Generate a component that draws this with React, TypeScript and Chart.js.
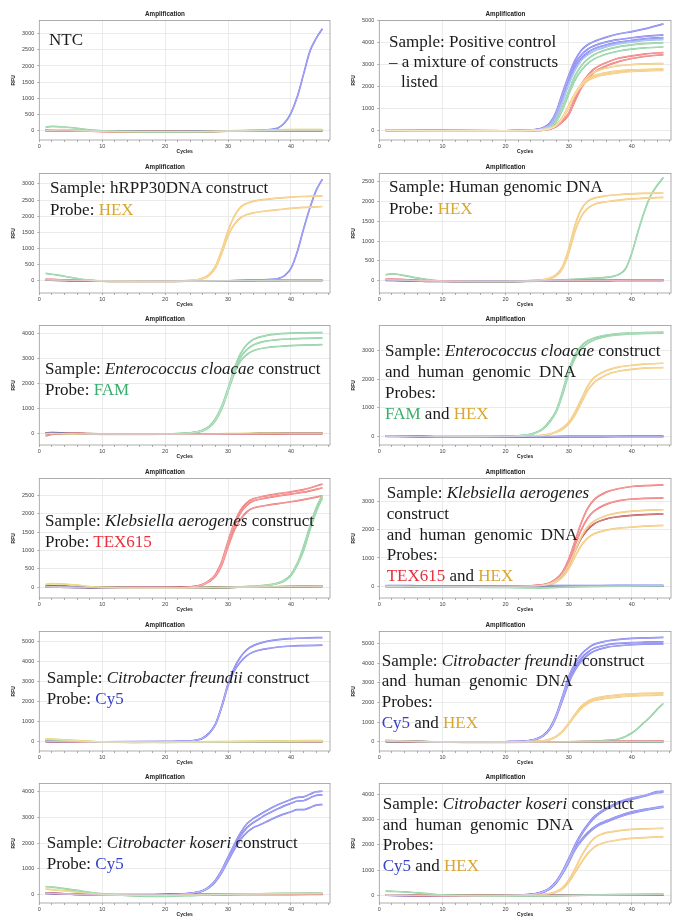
import React, { useEffect, useRef } from 'react';
import { Chart, registerables } from 'chart.js';
Chart.register(...registerables);

// ---------- data (cycles / RFU) ----------
const BASE_X = [1, 2, 4, 6, 8, 10, 15, 20, 25, 30, 35, 40, 45];

// Panel 1: NTC
const P1_CY5_X = [1, 5, 10, 20, 30, 35, 37, 38, 39, 40, 41, 42, 43, 44, 45];
const P1_CY5 = [10, 0, -10, -20, 0, 20, 50, 100, 250, 550, 1050, 1750, 2450, 2850, 3150];
const P1_BASE_GREEN = [110, 140, 120, 80, 30, 0, -20, -30, -30, -10, 10, 20, 30];
const P1_BASE_YELLOW = [20, 30, 40, 20, 0, -10, -20, -20, -20, 0, 20, 40, 40];
const P1_BASE_RED = [-10, 0, 0, -10, -10, -20, -30, -20, -30, -10, 0, 10, 10];
const P1_BASE_NAVY = [30, 30, 20, 10, 0, -10, -10, -10, -10, 0, 10, 10, 10];

// Panel 2: positive control
const P2_X = [1, 10, 20, 23, 25, 26, 27, 28, 29, 30, 31, 32, 33, 34, 36, 38, 40, 42, 45];
const P2_CY5_1 = [30, 10, 0, 20, 60, 150, 350, 850, 1700, 2500, 3200, 3650, 3900, 4050, 4250, 4400, 4500, 4620, 4850];
const P2_CY5_2 = [30, 10, 0, 20, 55, 130, 300, 780, 1600, 2400, 3050, 3450, 3700, 3850, 4030, 4140, 4220, 4280, 4350];
const P2_CY5_3 = [30, 10, 0, 15, 50, 110, 270, 700, 1450, 2250, 2900, 3300, 3550, 3720, 3900, 4020, 4100, 4170, 4230];
const P2_CY5_4 = [20, 10, 0, 15, 40, 90, 220, 600, 1300, 2100, 2750, 3200, 3450, 3620, 3820, 3950, 4030, 4100, 4150];
const P2_FAM_1 = [20, 0, 0, 10, 30, 70, 170, 450, 1050, 1800, 2500, 2950, 3250, 3450, 3680, 3820, 3900, 3950, 4000];
const P2_FAM_2 = [20, 0, 0, 10, 25, 60, 150, 400, 950, 1650, 2300, 2750, 3050, 3250, 3480, 3620, 3700, 3760, 3800];
const P2_TEX_1 = [10, 0, -10, 0, 10, 30, 80, 200, 450, 800, 1500, 2100, 2500, 2800, 3100, 3300, 3400, 3480, 3550];
const P2_TEX_2 = [10, 0, -10, 0, 10, 25, 70, 180, 400, 720, 1350, 1950, 2350, 2650, 2950, 3150, 3280, 3370, 3450];
const P2_HEX_1 = [10, 0, 0, 5, 20, 40, 100, 250, 550, 1050, 1650, 2100, 2450, 2650, 2850, 2950, 3000, 3030, 3050];
const P2_HEX_2 = [10, 0, 0, 5, 20, 40, 100, 260, 600, 1150, 1700, 2100, 2350, 2500, 2640, 2720, 2760, 2780, 2800];
const P2_HEX_3 = [10, 0, 0, 5, 15, 35, 90, 240, 560, 1080, 1620, 2020, 2270, 2420, 2560, 2640, 2690, 2720, 2740];

// Panel 3: hRPP30DNA construct
const P3_X = [1, 10, 20, 25, 26, 27, 28, 29, 30, 31, 32, 33, 34, 36, 38, 40, 42, 45];
const P3_HEX_1 = [20, 0, -10, 30, 80, 200, 450, 950, 1550, 2000, 2280, 2400, 2460, 2520, 2560, 2590, 2610, 2630];
const P3_HEX_2 = [20, 0, -10, 20, 60, 170, 400, 850, 1400, 1750, 1950, 2050, 2100, 2160, 2200, 2240, 2270, 2300];
const P3_CY5_X = [1, 10, 20, 30, 35, 37, 38, 39, 40, 41, 42, 43, 44, 45];
const P3_CY5 = [30, -10, -10, 0, 20, 40, 70, 160, 380, 900, 1600, 2250, 2800, 3150];
const P3_BASE_GREEN = [230, 200, 140, 70, 20, -10, -20, -20, -10, 0, 10, 20, 20];
const P3_BASE_RED = [50, 40, 20, 10, 0, -10, -20, -20, -10, 0, 0, 10, 10];
const P3_BASE_NAVY = [20, 20, 10, 0, -10, -10, -10, -10, 0, 0, 10, 10, 10];

// Panel 4: human genomic DNA
const P4_X = [1, 10, 20, 25, 26, 27, 28, 29, 30, 31, 32, 33, 34, 36, 38, 40, 42, 45];
const P4_HEX_1 = [20, -10, -10, 10, 30, 70, 150, 350, 800, 1400, 1800, 2000, 2080, 2140, 2170, 2190, 2200, 2210];
const P4_HEX_2 = [20, -10, -10, 5, 20, 50, 120, 300, 700, 1250, 1620, 1820, 1920, 1990, 2030, 2060, 2080, 2100];
const P4_FAM_X = [1, 2, 4, 6, 8, 10, 15, 20, 25, 30, 35, 37, 38, 39, 40, 41, 42, 43, 44, 45];
const P4_FAM = [150, 170, 130, 70, 20, -10, -30, -30, -10, 30, 70, 110, 160, 300, 700, 1250, 1750, 2150, 2400, 2600];
const P4_BASE_RED = [40, 40, 30, 10, 0, -10, -20, -20, -10, 0, 0, 10, 10];
const P4_BASE_BLUE = [20, 20, 10, 0, -10, -10, -10, -10, 0, 10, 10, 20, 20];
const P4_BASE_NAVY = [10, 10, 0, -10, -20, -20, -20, -20, -10, 0, 0, 10, 10];

// Panel 5: Enterococcus cloacae
const P5_X = [1, 10, 20, 24, 25, 26, 27, 28, 29, 30, 31, 32, 33, 34, 36, 38, 40, 42, 45];
const P5_FAM_1 = [20, 0, 0, 40, 80, 150, 300, 600, 1100, 1800, 2600, 3200, 3550, 3750, 3900, 3970, 4000, 4010, 4020];
const P5_FAM_2 = [20, 0, 0, 35, 75, 140, 280, 560, 1050, 1750, 2500, 3050, 3350, 3530, 3680, 3740, 3770, 3790, 3800];
const P5_FAM_3 = [20, 0, 0, 30, 70, 130, 260, 530, 1000, 1700, 2400, 2900, 3150, 3300, 3420, 3470, 3500, 3520, 3540];
const P5_BASE_RED = [-80, -20, 20, 30, 10, 0, -10, -10, -10, 0, 0, 10, 10];
const P5_BASE_NAVY = [40, 50, 40, 20, 0, -10, -10, -10, 0, 0, 10, 20, 20];
const P5_BASE_YELLOW = [10, 20, 10, 0, -10, -20, -20, -10, -10, 10, 30, 40, 40];
const P5_BASE_PURPLE = [30, 30, 20, 10, 0, 0, -10, -10, 0, 0, 10, 20, 20];

// Panel 6: Enterococcus cloacae + human genomic DNA
const P6_X = [1, 10, 20, 22, 24, 25, 26, 27, 28, 29, 30, 31, 32, 33, 34, 36, 38, 40, 42, 45];
const P6_FAM_1 = [30, 0, 10, 30, 90, 160, 300, 550, 900, 1550, 2300, 2850, 3150, 3330, 3430, 3530, 3580, 3600, 3615, 3630];
const P6_FAM_2 = [30, 0, 10, 25, 80, 150, 280, 510, 850, 1450, 2180, 2730, 3050, 3240, 3360, 3480, 3540, 3570, 3590, 3600];
const P6_HEX_1 = [20, 0, 0, 10, 20, 30, 50, 90, 170, 300, 500, 850, 1300, 1750, 2050, 2300, 2420, 2480, 2520, 2550];
const P6_HEX_2 = [20, 0, 0, 5, 15, 25, 40, 80, 150, 260, 440, 760, 1180, 1600, 1880, 2150, 2280, 2340, 2380, 2400];
const P6_BASE_BLUE = [10, 10, 0, 0, -10, -10, -10, 0, 0, 10, 10, 10, 10];
const P6_BASE_NAVY = [30, 30, 20, 10, 0, -10, -20, -20, -10, 0, 0, 10, 10];

// Panel 7: Klebsiella aerogenes
const P7_X = [1, 10, 20, 25, 26, 27, 28, 29, 30, 31, 32, 33, 34, 36, 38, 40, 42, 45];
const P7_TEX_1 = [20, -10, -10, 30, 80, 180, 350, 700, 1250, 1750, 2100, 2300, 2400, 2480, 2540, 2590, 2650, 2800];
const P7_TEX_2 = [20, -10, -10, 25, 75, 170, 330, 650, 1180, 1680, 2030, 2230, 2340, 2420, 2480, 2530, 2580, 2700];
const P7_TEX_3 = [20, -10, -10, 20, 70, 160, 300, 600, 1100, 1550, 1850, 2050, 2150, 2220, 2270, 2320, 2380, 2480];
const P7_FAM_X = [1, 10, 20, 30, 35, 37, 38, 39, 40, 41, 42, 43, 44, 45];
const P7_FAM_1 = [20, -10, -20, 0, 40, 80, 120, 200, 350, 650, 1100, 1650, 2150, 2500];
const P7_FAM_2 = [10, -10, -20, 0, 30, 70, 110, 180, 320, 600, 1000, 1550, 2050, 2430];
const P7_BASE_YELLOW = [80, 100, 90, 60, 20, 0, -20, -20, -10, 0, 10, 20, 30];
const P7_BASE_NAVY = [30, 40, 30, 10, 0, -10, -10, -10, -10, 0, 10, 20, 30];
const P7_BASE_PURPLE = [10, 10, 0, -10, -10, -20, -20, -20, -10, 0, 10, 20, 20];

// Panel 8: Klebsiella aerogenes + human genomic DNA
const P8_X = [1, 10, 20, 24, 26, 27, 28, 29, 30, 31, 32, 33, 34, 36, 38, 40, 42, 45];
const P8_TEX_1 = [0, -10, 0, 20, 60, 130, 260, 500, 950, 1600, 2250, 2750, 3050, 3330, 3450, 3520, 3550, 3580];
const P8_TEX_2 = [0, -10, 0, 15, 50, 110, 230, 450, 850, 1450, 2000, 2400, 2650, 2900, 3020, 3080, 3100, 3120];
const P8_TEX_3 = [0, -10, 0, 10, 40, 100, 200, 400, 750, 1250, 1700, 2000, 2200, 2380, 2460, 2500, 2530, 2550];
const P8_HEX_1 = [0, -10, -20, 0, 40, 90, 200, 400, 750, 1250, 1750, 2100, 2300, 2500, 2600, 2650, 2680, 2700];
const P8_HEX_2 = [0, -10, -20, 0, 30, 70, 150, 320, 620, 1050, 1450, 1700, 1850, 1980, 2050, 2090, 2120, 2150];
const P8_BASE_BLUE = [20, 30, 30, 20, 20, 20, 20, 20, 20, 30, 30, 40, 40];
const P8_BASE_GREEN = [0, 0, -10, -20, -20, -20, -30, -40, -50, -20, 0, 10, 20];
const P8_BASE_NAVY = [10, 10, 0, -10, -10, -10, -10, -10, -10, 0, 10, 10, 10];

// Panel 9: Citrobacter freundii
const P9_X = [1, 10, 20, 24, 25, 26, 27, 28, 29, 30, 31, 32, 33, 34, 36, 38, 40, 42, 45];
const P9_CY5_1 = [40, 0, 20, 50, 100, 200, 450, 900, 1800, 2900, 3700, 4250, 4600, 4800, 5000, 5100, 5150, 5180, 5200];
const P9_CY5_2 = [40, 0, 20, 45, 90, 190, 430, 870, 1750, 2800, 3550, 4000, 4300, 4480, 4640, 4730, 4780, 4800, 4820];
const P9_BASE_YELLOW = [150, 140, 110, 70, 30, 0, -10, -10, 0, 20, 40, 60, 70];
const P9_BASE_GREEN = [120, 110, 80, 50, 20, 0, -10, -20, -10, 0, 10, 20, 30];
const P9_BASE_RED = [30, 20, 10, 0, -10, -10, -20, -10, 0, 0, 10, 10, 10];
const P9_BASE_NAVY = [20, 20, 10, 0, -10, -10, -10, -10, 0, 10, 10, 20, 20];

// Panel 10: Citrobacter freundii + human genomic DNA
const P10_X = [1, 10, 20, 23, 24, 25, 26, 27, 28, 29, 30, 31, 32, 33, 34, 36, 38, 40, 42, 45];
const P10_CY5_1 = [50, 0, 10, 40, 80, 170, 350, 700, 1350, 2300, 3300, 4000, 4450, 4750, 4950, 5120, 5200, 5250, 5280, 5300];
const P10_CY5_2 = [50, 0, 10, 35, 75, 160, 330, 670, 1300, 2200, 3150, 3800, 4250, 4550, 4750, 4920, 5000, 5040, 5060, 5080];
const P10_CY5_3 = [50, 0, 10, 30, 70, 150, 310, 640, 1250, 2100, 3000, 3650, 4100, 4400, 4600, 4800, 4880, 4930, 4960, 4980];
const P10_HEX_1 = [30, 0, 0, 10, 20, 30, 60, 130, 280, 550, 950, 1400, 1800, 2050, 2200, 2320, 2390, 2430, 2460, 2480];
const P10_HEX_2 = [30, 0, 0, 10, 15, 25, 50, 120, 260, 520, 900, 1330, 1700, 1950, 2100, 2220, 2290, 2330, 2360, 2380];
const P10_FAM_X = [1, 10, 20, 30, 35, 37, 38, 39, 40, 41, 42, 43, 44, 45];
const P10_FAM = [60, 0, -10, 10, 60, 100, 160, 280, 450, 700, 1000, 1300, 1650, 1950];
const P10_BASE_RED = [50, 40, 30, 20, 10, 0, -10, -10, 0, 10, 20, 30, 40];
const P10_BASE_GREEN = [80, 70, 50, 30, 10, 0, -20, -20, -10, 0, 10, 20, 20];
const P10_BASE_NAVY = [20, 20, 10, 0, -10, -10, -10, -10, 0, 10, 10, 20, 20];

// Panel 11: Citrobacter koseri
const P11_X = [1, 10, 20, 24, 25, 26, 27, 28, 29, 30, 31, 32, 33, 34, 35, 36, 38, 40, 41, 42, 43, 44, 45];
const P11_CY5_1 = [40, -30, -10, 40, 80, 150, 300, 550, 950, 1450, 1950, 2400, 2750, 2950, 3100, 3250, 3500, 3700, 3780, 3800, 3900, 4000, 4020];
const P11_CY5_2 = [40, -30, -10, 35, 75, 140, 280, 520, 900, 1380, 1850, 2280, 2600, 2800, 2950, 3100, 3350, 3550, 3640, 3650, 3760, 3860, 3880];
const P11_CY5_3 = [40, -30, -10, 30, 70, 130, 260, 490, 850, 1300, 1750, 2150, 2420, 2600, 2700, 2820, 3050, 3220, 3300, 3300, 3380, 3480, 3500];
const P11_BASE_GREEN = [300, 280, 220, 150, 80, 20, -60, -80, -40, 0, 20, 40, 50];
const P11_BASE_YELLOW = [200, 180, 140, 90, 40, 0, -40, -50, -20, 0, 20, 30, 40];
const P11_BASE_RED = [50, 40, 20, 10, 0, -20, -30, -30, -20, -10, -10, -10, 0];
const P11_BASE_NAVY = [30, 30, 20, 10, 0, -10, -10, -10, 0, 0, 10, 10, 10];

// Panel 12: Citrobacter koseri + human genomic DNA
const P12_X = [1, 10, 20, 24, 25, 26, 27, 28, 29, 30, 31, 32, 33, 34, 35, 36, 38, 40, 42, 44, 45];
const P12_CY5_1 = [10, -10, 0, 40, 80, 160, 300, 550, 950, 1450, 2000, 2450, 2800, 3100, 3300, 3450, 3700, 3850, 3950, 4100, 4120];
const P12_CY5_2 = [10, -10, 0, 35, 75, 150, 280, 520, 900, 1400, 1950, 2400, 2750, 3050, 3250, 3400, 3650, 3800, 3920, 4060, 4080];
const P12_CY5_3 = [10, -10, 0, 35, 70, 140, 270, 500, 880, 1350, 1850, 2200, 2480, 2700, 2850, 2950, 3150, 3300, 3400, 3480, 3520];
const P12_CY5_4 = [10, -10, 0, 30, 65, 130, 250, 480, 850, 1300, 1800, 2150, 2430, 2650, 2800, 2900, 3100, 3250, 3360, 3450, 3490];
const P12_HEX_1 = [20, 0, 0, 10, 20, 40, 70, 150, 300, 600, 1050, 1550, 1950, 2250, 2400, 2480, 2560, 2610, 2630, 2645, 2650];
const P12_HEX_2 = [20, 0, 0, 5, 15, 30, 60, 130, 260, 520, 900, 1300, 1650, 1900, 2030, 2110, 2200, 2250, 2280, 2310, 2320];
const P12_BASE_GREEN = [170, 160, 140, 100, 60, 20, -20, -30, -20, 0, 20, 40, 50];
const P12_BASE_RED = [10, 10, 0, -10, -10, -20, -30, -20, 0, 0, 10, 20, 30];
const P12_BASE_NAVY = [20, 20, 10, 0, -10, -10, -10, -10, 0, 10, 10, 10, 10];

// Axis ranges per panel [min, max]
const Y_RANGES = [
  [-280, 3400], [-420, 5000],
  [-380, 3320], [-310, 2700],
  [-440, 4300], [-290, 3860],
  [-290, 2950], [-410, 3800],
  [-450, 5500], [-460, 5600],
  [-340, 4320], [-300, 4420],
];

// Tick labels
const X_TICKS = [0, 10, 20, 30, 40];
const TICKS_500_3000 = [0, 500, 1000, 1500, 2000, 2500, 3000];
const TICKS_500_2500 = [0, 500, 1000, 1500, 2000, 2500];
const TICKS_1000_3000 = [0, 1000, 2000, 3000];
const TICKS_1000_4000 = [0, 1000, 2000, 3000, 4000];
const TICKS_1000_5000 = [0, 1000, 2000, 3000, 4000, 5000];
const Y_TICKS = [
  TICKS_500_3000, TICKS_1000_5000,
  TICKS_500_3000, TICKS_500_2500,
  TICKS_1000_4000, TICKS_1000_3000,
  TICKS_500_2500, TICKS_1000_3000,
  TICKS_1000_5000, TICKS_1000_5000,
  TICKS_1000_4000, TICKS_1000_4000,
];

// ---------- styles ----------
const C_CY5 = '#7777ee';
const C_CY5_LIGHT = '#90aef0';
const C_FAM = '#7fcb95';
const C_HEX = '#f2c26a';
const C_TEX = '#ee6a6a';
const C_TEX_DARK = '#bb4646';
const C_NAVY = '#44447e';
const C_BYEL = '#e2cc5a';
const C_PURPLE = '#8f68b4';

const T_HEX = '#d9a630';
const T_FAM = '#39ad6c';
const T_TEX = '#e8303a';
const T_CY5 = '#3442c8';

const SANS = "'Liberation Sans', Arial, sans-serif";
const SERIF = "'Liberation Serif', 'Times New Roman', serif";

type Curve = { x: number[]; y: number[]; c: string };
const cv = (x: number[], y: number[], c: string): Curve => ({ x, y, c });

type Seg = [string, string?];
type PanelDef = {
  curves: Curve[];
  lines: Seg[][];
  tx: number;
  ty: number;
  lh: number;
  indent?: number[];
  wordSp?: number[];
};

const PANELS: PanelDef[] = [
  {
    curves: [
      cv(BASE_X, P1_BASE_GREEN, C_FAM), cv(BASE_X, P1_BASE_YELLOW, C_BYEL),
      cv(BASE_X, P1_BASE_RED, C_TEX), cv(BASE_X, P1_BASE_NAVY, C_NAVY),
      cv(P1_CY5_X, P1_CY5, C_CY5),
    ],
    lines: [[['NTC']]], tx: 49, ty: 28.7, lh: 21,
  },
  {
    curves: [
      cv(P2_X, P2_HEX_1, C_HEX), cv(P2_X, P2_HEX_2, C_HEX), cv(P2_X, P2_HEX_3, C_HEX),
      cv(P2_X, P2_TEX_1, C_TEX), cv(P2_X, P2_TEX_2, C_TEX),
      cv(P2_X, P2_FAM_1, C_FAM), cv(P2_X, P2_FAM_2, C_FAM),
      cv(P2_X, P2_CY5_4, C_CY5_LIGHT),
      cv(P2_X, P2_CY5_1, C_CY5), cv(P2_X, P2_CY5_2, C_CY5), cv(P2_X, P2_CY5_3, C_CY5),
    ],
    lines: [[['Sample: Positive control']], [['– a mixture of constructs']], [['listed']]],
    tx: 49, ty: 31.7, lh: 20, indent: [0, 0, 12],
  },
  {
    curves: [
      cv(BASE_X, P3_BASE_GREEN, C_FAM), cv(BASE_X, P3_BASE_RED, C_TEX), cv(BASE_X, P3_BASE_NAVY, C_NAVY),
      cv(P3_X, P3_HEX_1, C_HEX), cv(P3_X, P3_HEX_2, C_HEX), cv(P3_CY5_X, P3_CY5, C_CY5),
    ],
    lines: [[['Sample: hRPP30DNA construct']], [['Probe: '], ['HEX', 'hex']]],
    tx: 50, ty: 24, lh: 21.5,
  },
  {
    curves: [
      cv(BASE_X, P4_BASE_RED, C_TEX), cv(BASE_X, P4_BASE_BLUE, C_CY5), cv(BASE_X, P4_BASE_NAVY, C_NAVY),
      cv(P4_X, P4_HEX_1, C_HEX), cv(P4_X, P4_HEX_2, C_HEX), cv(P4_FAM_X, P4_FAM, C_FAM),
    ],
    lines: [[['Sample: Human genomic DNA']], [['Probe: '], ['HEX', 'hex']]],
    tx: 49, ty: 23, lh: 21.5,
  },
  {
    curves: [
      cv(BASE_X, P5_BASE_RED, C_TEX), cv(BASE_X, P5_BASE_NAVY, C_NAVY), cv(BASE_X, P5_BASE_YELLOW, C_BYEL),
      cv(BASE_X, P5_BASE_PURPLE, C_PURPLE),
      cv(P5_X, P5_FAM_1, C_FAM), cv(P5_X, P5_FAM_2, C_FAM), cv(P5_X, P5_FAM_3, C_FAM),
    ],
    lines: [[['Sample: '], ['Enterococcus cloacae', 'i'], [' construct']], [['Probe: '], ['FAM', 'fam']]],
    tx: 45, ty: 52.7, lh: 21,
  },
  {
    curves: [
      cv(BASE_X, P6_BASE_BLUE, C_CY5), cv(BASE_X, P6_BASE_NAVY, C_NAVY),
      cv(P6_X, P6_HEX_1, C_HEX), cv(P6_X, P6_HEX_2, C_HEX),
      cv(P6_X, P6_FAM_1, C_FAM), cv(P6_X, P6_FAM_2, C_FAM),
    ],
    lines: [
      [['Sample: '], ['Enterococcus cloacae', 'i'], [' construct']],
      [['and human genomic DNA']], [['Probes:']],
      [['FAM', 'fam'], [' and '], ['HEX', 'hex']],
    ],
    tx: 45, ty: 35.4, lh: 21, wordSp: [0, 4, 0, 0],
  },
  {
    curves: [
      cv(BASE_X, P7_BASE_YELLOW, C_BYEL), cv(BASE_X, P7_BASE_NAVY, C_NAVY), cv(BASE_X, P7_BASE_PURPLE, C_PURPLE),
      cv(P7_FAM_X, P7_FAM_1, C_FAM), cv(P7_FAM_X, P7_FAM_2, C_FAM),
      cv(P7_X, P7_TEX_1, C_TEX), cv(P7_X, P7_TEX_2, C_TEX), cv(P7_X, P7_TEX_3, C_TEX),
    ],
    lines: [[['Sample: '], ['Klebsiella aerogenes', 'i'], [' construct']], [['Probe: '], ['TEX615', 'tex']]],
    tx: 45, ty: 51.7, lh: 21,
  },
  {
    curves: [
      cv(BASE_X, P8_BASE_GREEN, C_FAM), cv(BASE_X, P8_BASE_NAVY, C_NAVY), cv(BASE_X, P8_BASE_BLUE, C_CY5),
      cv(P8_X, P8_HEX_1, C_HEX), cv(P8_X, P8_HEX_2, C_HEX),
      cv(P8_X, P8_TEX_1, C_TEX), cv(P8_X, P8_TEX_2, C_TEX), cv(P8_X, P8_TEX_3, C_TEX_DARK),
    ],
    lines: [
      [['Sample: '], ['Klebsiella aerogenes', 'i']], [['construct']],
      [['and human genomic DNA']], [['Probes:']],
      [['TEX615', 'tex'], [' and '], ['HEX', 'hex']],
    ],
    tx: 46.7, ty: 25, lh: 20.8, wordSp: [0, 0, 4, 0, 0],
  },
  {
    curves: [
      cv(BASE_X, P9_BASE_YELLOW, C_BYEL), cv(BASE_X, P9_BASE_GREEN, C_FAM),
      cv(BASE_X, P9_BASE_RED, C_TEX), cv(BASE_X, P9_BASE_NAVY, C_NAVY),
      cv(P9_X, P9_CY5_1, C_CY5), cv(P9_X, P9_CY5_2, C_CY5),
    ],
    lines: [[['Sample: '], ['Citrobacter freundii', 'i'], [' construct']], [['Probe: '], ['Cy5', 'cy5']]],
    tx: 46.7, ty: 56.4, lh: 21,
  },
  {
    curves: [
      cv(BASE_X, P10_BASE_RED, C_TEX), cv(BASE_X, P10_BASE_GREEN, C_FAM), cv(BASE_X, P10_BASE_NAVY, C_NAVY),
      cv(P10_FAM_X, P10_FAM, C_FAM),
      cv(P10_X, P10_HEX_1, C_HEX), cv(P10_X, P10_HEX_2, C_HEX),
      cv(P10_X, P10_CY5_1, C_CY5), cv(P10_X, P10_CY5_2, C_CY5), cv(P10_X, P10_CY5_3, C_CY5),
    ],
    lines: [
      [['Sample: '], ['Citrobacter freundii', 'i'], [' construct']],
      [['and human genomic DNA']], [['Probes:']],
      [['Cy5', 'cy5'], [' and '], ['HEX', 'hex']],
    ],
    tx: 41.7, ty: 39.7, lh: 20.8, wordSp: [0, 4, 0, 0],
  },
  {
    curves: [
      cv(BASE_X, P11_BASE_GREEN, C_FAM), cv(BASE_X, P11_BASE_YELLOW, C_BYEL),
      cv(BASE_X, P11_BASE_RED, C_TEX), cv(BASE_X, P11_BASE_NAVY, C_NAVY),
      cv(P11_X, P11_CY5_1, C_CY5), cv(P11_X, P11_CY5_2, C_CY5), cv(P11_X, P11_CY5_3, C_CY5),
    ],
    lines: [[['Sample: '], ['Citrobacter koseri', 'i'], [' construct']], [['Probe: '], ['Cy5', 'cy5']]],
    tx: 46.7, ty: 68.7, lh: 21,
  },
  {
    curves: [
      cv(BASE_X, P12_BASE_GREEN, C_FAM), cv(BASE_X, P12_BASE_RED, C_TEX), cv(BASE_X, P12_BASE_NAVY, C_NAVY),
      cv(P12_X, P12_HEX_1, C_HEX), cv(P12_X, P12_HEX_2, C_HEX),
      cv(P12_X, P12_CY5_1, C_CY5), cv(P12_X, P12_CY5_2, C_CY5),
      cv(P12_X, P12_CY5_3, C_CY5), cv(P12_X, P12_CY5_4, C_CY5),
    ],
    lines: [
      [['Sample: '], ['Citrobacter koseri', 'i'], [' construct']],
      [['and human genomic DNA']], [['Probes:']],
      [['Cy5', 'cy5'], [' and '], ['HEX', 'hex']],
    ],
    tx: 42.7, ty: 31, lh: 20.5, wordSp: [0, 4, 0, 0],
  },
];

const ROW_TOPS = [0, 153, 305, 458, 611, 763];
const CANVAS_H = 156;

// lighten a hex colour toward white (for the pale core of each trace)
function tint(hex: string, k: number): string {
  const n = parseInt(hex.slice(1), 16);
  const r = (n >> 16) & 255, g = (n >> 8) & 255, b = n & 255;
  const f = (v: number) => Math.round(v + (255 - v) * k);
  return `rgb(${f(r)},${f(g)},${f(b)})`;
}

const framePlugin = {
  id: 'frame',
  afterDraw(chart: any) {
    const { ctx, chartArea: a } = chart;
    ctx.save();
    ctx.strokeStyle = '#9a9a9a';
    ctx.lineWidth = 0.8;
    ctx.strokeRect(a.left, a.top, a.right - a.left, a.bottom - a.top);
    ctx.restore();
  },
};

function segStyle(k?: string): React.CSSProperties {
  if (k === 'i') return { fontStyle: 'italic' };
  if (k === 'hex') return { color: T_HEX };
  if (k === 'fam') return { color: T_FAM };
  if (k === 'tex') return { color: T_TEX };
  if (k === 'cy5') return { color: T_CY5 };
  return {};
}

function Panel({ idx }: { idx: number }) {
  const ref = useRef<HTMLCanvasElement>(null);
  const p = PANELS[idx];
  const col = idx % 2;
  const row = Math.floor(idx / 2);
  const width = col === 0 ? 340 : 343;
  const [yMin, yMax] = Y_RANGES[idx];
  const yTicks = Y_TICKS[idx];

  useEffect(() => {
    const outer = p.curves.map((c) => ({
      data: c.x.map((x, i) => ({ x, y: c.y[i] })),
      borderColor: c.c,
      borderWidth: 1.7,
      pointRadius: 0,
      fill: false,
      cubicInterpolationMode: 'monotone' as const,
      order: 2,
    }));
    const inner = p.curves.map((c) => ({
      data: c.x.map((x, i) => ({ x, y: c.y[i] })),
      borderColor: tint(c.c, 0.6),
      borderWidth: 0.6,
      pointRadius: 0,
      fill: false,
      cubicInterpolationMode: 'monotone' as const,
      order: 1,
    }));
    const chart = new Chart(ref.current as HTMLCanvasElement, {
      type: 'line',
      data: { datasets: [...outer, ...inner] },
      options: {
        animation: false,
        responsive: false,
        maintainAspectRatio: false,
        events: [],
        layout: { padding: { left: 0, right: col === 0 ? 10 : 12, top: 0, bottom: 0 } },
        plugins: {
          legend: { display: false },
          tooltip: { enabled: false },
          title: {
            display: true,
            text: 'Amplification',
            color: '#222',
            font: { family: SANS, size: 6.3, weight: 'bold' },
            padding: { top: 10, bottom: 3 },
          },
        },
        scales: {
          x: {
            type: 'linear',
            min: 0,
            max: 46.2,
            afterFit: (s: any) => { s.height = 16; },
            afterBuildTicks: (s: any) => {
              const t: any[] = [];
              for (let v = 0; v <= 46; v += 2) t.push({ value: v });
              s.ticks = t;
            },
            ticks: {
              autoSkip: false,
              maxRotation: 0,
              padding: 1,
              color: '#444',
              font: { family: SANS, size: 5.5 },
              callback: (v: any) => (X_TICKS.includes(Number(v)) ? String(v) : ''),
            },
            grid: {
              color: (ctx: any) =>
                ctx.tick && X_TICKS.includes(ctx.tick.value) && ctx.tick.value > 0 ? '#e6e6e6' : 'rgba(0,0,0,0)',
              tickColor: '#999',
              tickLength: 2,
              lineWidth: 0.8,
            },
            border: { display: false },
            title: {
              display: true,
              text: 'Cycles',
              color: '#222',
              font: { family: SANS, size: 5, weight: 'bold' },
              padding: { top: 0, bottom: 1.5 },
            },
          },
          y: {
            type: 'linear',
            min: yMin,
            max: yMax,
            afterFit: (s: any) => { s.width = 39.3; },
            afterBuildTicks: (s: any) => {
              s.ticks = yTicks.map((v) => ({ value: v }));
            },
            ticks: {
              padding: 3,
              color: '#444',
              font: { family: SANS, size: 5.5 },
              callback: (v: any) => String(v),
            },
            grid: { color: '#e6e6e6', tickColor: '#999', tickLength: 2, lineWidth: 0.8 },
            border: { display: false },
            title: {
              display: true,
              text: 'RFU',
              color: '#222',
              font: { family: SANS, size: 5, weight: 'bold' },
              padding: { top: 11, bottom: 0 },
            },
          },
        },
      } as any,
      plugins: [framePlugin],
    });
    return () => chart.destroy();
  }, [idx]);

  return (
    <div style={{ position: 'absolute', left: col === 0 ? 0 : 340, top: ROW_TOPS[row], width, height: CANVAS_H }}>
      <canvas ref={ref} width={width} height={CANVAS_H} style={{ position: 'absolute', left: 0, top: 0, width, height: CANVAS_H }} />
      <div
        style={{
          position: 'absolute',
          left: p.tx,
          top: p.ty,
          fontFamily: SERIF,
          fontSize: 17,
          lineHeight: `${p.lh}px`,
          color: '#1a1a1a',
          whiteSpace: 'nowrap',
        }}
      >
        {p.lines.map((ln, li) => (
          <div
            key={li}
            style={{
              paddingLeft: p.indent ? p.indent[li] : 0,
              wordSpacing: p.wordSp ? p.wordSp[li] : 0,
              whiteSpace: 'pre',
            }}
          >
            {ln.map((s, si) => (
              <span key={si} style={segStyle(s[1])}>{s[0]}</span>
            ))}
          </div>
        ))}
      </div>
    </div>
  );
}

export default function App() {
  return (
    <div
      style={{
        position: 'absolute',
        left: 0,
        top: 0,
        width: 683,
        height: 917,
        overflow: 'hidden',
        background: '#fff',
      }}
    >
      {PANELS.map((_, i) => (
        <Panel key={i} idx={i} />
      ))}
    </div>
  );
}
